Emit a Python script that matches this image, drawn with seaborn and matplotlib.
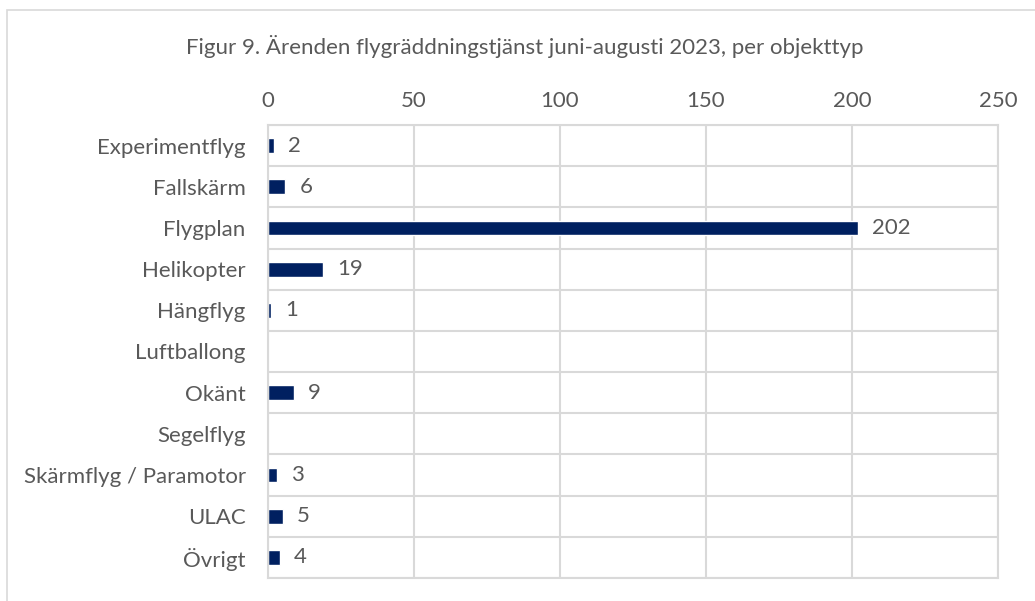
import matplotlib
matplotlib.use("Agg")
import matplotlib.pyplot as plt
import seaborn as sns
import numpy as np
from matplotlib.patches import Rectangle

# ── Data ───────────────────────────────────────────────────
categories = ["Experimentflyg", "Fallskärm", "Flygplan", "Helikopter", "Hängflyg",
              "Luftballong", "Okänt", "Segelflyg", "Skärmflyg / Paramotor", "ULAC", "Övrigt"]
counts = [2, 6, 202, 19, 1, 0, 9, 0, 3, 5, 4]
x_ticks = [0, 50, 100, 150, 200, 250]
title = "Figur 9. Ärenden flygräddningstjänst juni-augusti 2023, per objekttyp"

# ── Style ──────────────────────────────────────────────────
C_BAR  = "#002060"
C_TEXT = "#595959"
C_GRID = "#D9D9D9"
FS     = 16

sns.set_theme(style="white")
plt.rcParams["font.family"] = ["Lato", "DejaVu Sans"]

fig = plt.figure(figsize=(10.35, 6.01), dpi=100, facecolor="white")
ax = fig.add_axes([0.2589, 0.0383, 0.7054, 0.7537])

sns.barplot(x=counts, y=categories, orient="h", color=C_BAR, width=0.36,
            saturation=1, ax=ax)

labels = [str(v) if v > 0 else "" for v in counts]
ax.bar_label(ax.containers[0], labels=labels, padding=10, fontsize=FS, color=C_TEXT)

ax.set_xlim(0, 250)
ax.set_ylim(len(categories) - 0.5, -0.5)
ax.set_xticks(x_ticks)
ax.xaxis.tick_top()
ax.tick_params(axis="x", length=0, pad=10, labelsize=FS, labelcolor=C_TEXT)
ax.tick_params(axis="y", length=0, pad=16, labelsize=FS, labelcolor=C_TEXT)
ax.set_yticks(np.arange(-0.5, len(categories), 1.0), minor=True)
ax.tick_params(axis="y", which="minor", length=0)
ax.grid(axis="x", color=C_GRID, lw=1.5)
ax.grid(axis="y", which="minor", color=C_GRID, lw=1.5)
ax.set_axisbelow(True)
for s in ax.spines.values():
    s.set_color(C_GRID)
    s.set_linewidth(1.5)
ax.set_xlabel("")
ax.set_ylabel("")

fig.text(0.507, 0.923, title, ha="center", va="center", fontsize=FS, color=C_TEXT)

# outer chart border
fig.patches.append(Rectangle((0.0068, -0.05), 1.05, 1.05 - 0.0166, transform=fig.transFigure,
                             fill=False, edgecolor=C_GRID, lw=1.2))

fig.savefig("out.png", dpi=100, facecolor="white")
